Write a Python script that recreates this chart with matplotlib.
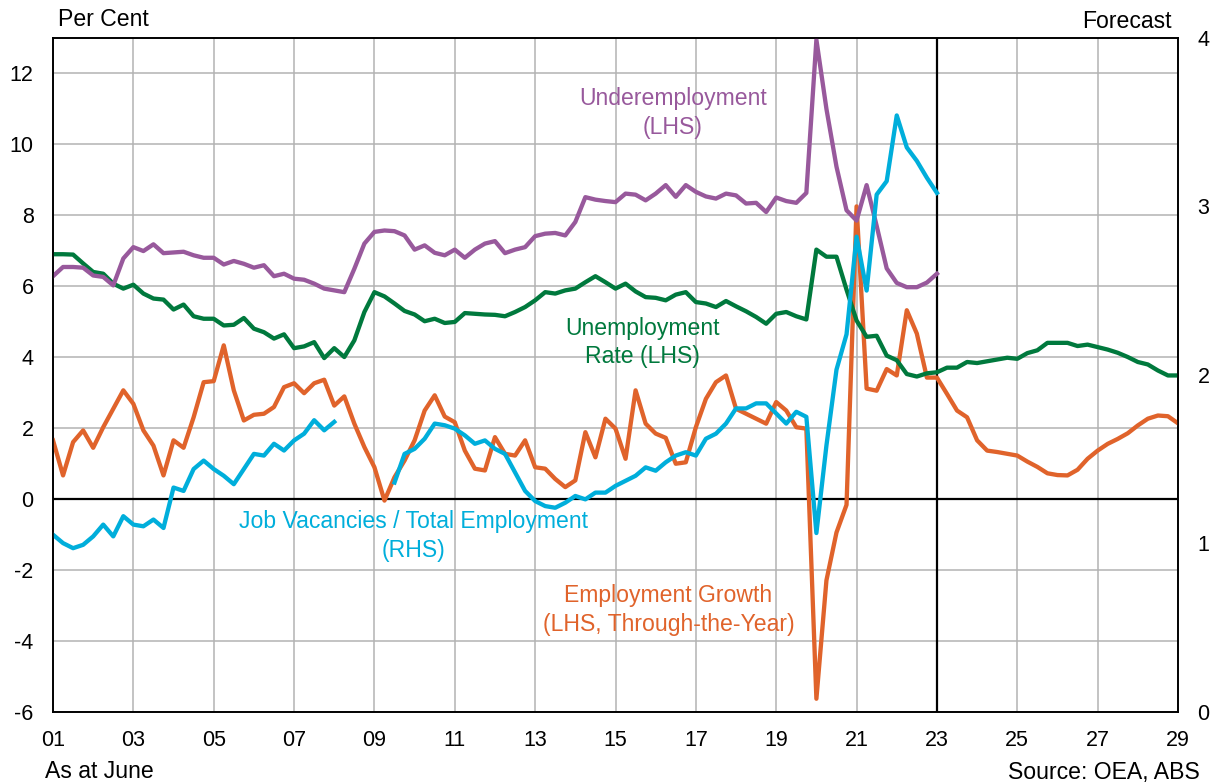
import numpy as np
import matplotlib
matplotlib.use("Agg")
import matplotlib.pyplot as plt

plt.rcParams['font.family'] = ['Liberation Sans', 'DejaVu Sans']
plt.rcParams['axes.unicode_minus'] = False

# quarterly data, first point = June 2001
start_year = 2001
forecast_start = 2023

# unemployment rate (LHS), actual to Jun-23 then forecast to Jun-29
unemployment = [
    6.90, 6.90, 6.89, 6.64, 6.40, 6.35, 6.07, 5.93,
    6.04, 5.79, 5.65, 5.62, 5.34, 5.48, 5.15, 5.08,
    5.08, 4.89, 4.91, 5.10, 4.80, 4.70, 4.52, 4.64,
    4.25, 4.30, 4.42, 3.97, 4.25, 4.00, 4.47, 5.27,
    5.83, 5.71, 5.51, 5.30, 5.20, 5.01, 5.08, 4.96,
    4.99, 5.24, 5.22, 5.20, 5.19, 5.15, 5.27, 5.41,
    5.60, 5.83, 5.79, 5.88, 5.93, 6.11, 6.28, 6.11,
    5.93, 6.07, 5.85, 5.69, 5.67, 5.60, 5.76, 5.83,
    5.55, 5.51, 5.41, 5.58, 5.43, 5.29, 5.13, 4.94,
    5.22, 5.27, 5.15, 5.06, 7.03, 6.83, 6.83, 5.90,
    5.03, 4.57, 4.60, 4.04, 3.91, 3.52, 3.45, 3.54,
    3.57, 3.70, 3.70, 3.86, 3.83, 3.88, 3.93, 3.98,
    3.95, 4.11, 4.19, 4.40, 4.40, 4.40, 4.31, 4.35,
    4.28, 4.21, 4.12, 4.00, 3.86, 3.79, 3.62, 3.48,
    3.48,
]

# employment growth, through the year (LHS)
employment_growth = [
    1.65, 0.66, 1.60, 1.93, 1.44, 2.02, 2.54, 3.06,
    2.68, 1.93, 1.50, 0.66, 1.65, 1.44, 2.30, 3.29,
    3.32, 4.33, 3.06, 2.21, 2.37, 2.40, 2.59, 3.15,
    3.26, 2.98, 3.26, 3.36, 2.63, 2.89, 2.12, 1.46,
    0.89, -0.05, 0.61, 1.08, 1.65, 2.49, 2.92, 2.32,
    2.16, 1.36, 0.85, 0.80, 1.74, 1.27, 1.22, 1.65,
    0.89, 0.85, 0.56, 0.33, 0.52, 1.88, 1.17, 2.26,
    1.98, 1.13, 3.06, 2.12, 1.84, 1.72, 0.99, 1.03,
    2.02, 2.82, 3.29, 3.48, 2.54, 2.40, 2.26, 2.12,
    2.73, 2.49, 2.02, 1.98, -5.64, -2.30, -0.95, -0.17,
    8.25, 3.11, 3.05, 3.66, 3.48, 5.32, 4.66, 3.42,
    3.42, 2.96, 2.49, 2.30, 1.65, 1.36, 1.32, 1.27,
    1.22, 1.05, 0.90, 0.72, 0.67, 0.66, 0.82, 1.13,
    1.36, 1.55, 1.69, 1.85, 2.07, 2.26, 2.35, 2.33,
    2.13,
]

# underemployment rate (LHS), to Jun-23
underemployment = [
    6.28, 6.54, 6.54, 6.52, 6.30, 6.26, 6.02, 6.78,
    7.10, 6.99, 7.18, 6.93, 6.95, 6.97, 6.87, 6.80,
    6.80, 6.61, 6.71, 6.63, 6.52, 6.59, 6.28, 6.35,
    6.21, 6.18, 6.07, 5.93, 5.88, 5.83, 6.49, 7.20,
    7.53, 7.57, 7.55, 7.43, 7.03, 7.15, 6.94, 6.87,
    7.03, 6.80, 7.03, 7.20, 7.27, 6.93, 7.03, 7.10,
    7.41, 7.48, 7.50, 7.43, 7.81, 8.51, 8.44, 8.40,
    8.37, 8.61, 8.58, 8.42, 8.61, 8.85, 8.52, 8.85,
    8.66, 8.53, 8.47, 8.61, 8.56, 8.33, 8.35, 8.09,
    8.50, 8.40, 8.35, 8.63, 12.95, 11.00, 9.37, 8.14,
    7.85, 8.85, 7.70, 6.50, 6.09, 5.97, 5.97, 6.10,
    6.35,
]

# job vacancies / total employment (RHS), survey gap 2008-09
vacancies = [
    1.05, 1.00, 0.97, 0.99, 1.04, 1.11, 1.04, 1.16,
    1.11, 1.10, 1.14, 1.09, 1.33, 1.31, 1.44, 1.49,
    1.44, 1.40, 1.35, 1.44, 1.53, 1.52, 1.59, 1.55,
    1.61, 1.65, 1.73, 1.67, 1.72, np.nan, np.nan, np.nan,
    np.nan, np.nan, 1.36, 1.53, 1.56, 1.62, 1.71, 1.70,
    1.68, 1.64, 1.59, 1.61, 1.56, 1.53, 1.42, 1.31,
    1.25, 1.22, 1.21, 1.24, 1.28, 1.26, 1.30, 1.30,
    1.34, 1.37, 1.40, 1.45, 1.43, 1.48, 1.52, 1.54,
    1.52, 1.62, 1.65, 1.71, 1.80, 1.80, 1.83, 1.83,
    1.77, 1.71, 1.78, 1.75, 1.06, 1.58, 2.03, 2.24,
    2.82, 2.50, 3.07, 3.15, 3.54, 3.35, 3.27, 3.17,
    3.08,
]

year_ticks = list(range(2001, 2030, 2))
year_labels = ["%02d" % (y % 100) for y in year_ticks]
lhs_ticks = list(range(-6, 13, 2))
rhs_ticks = [0, 1, 2, 3, 4]

c_purple = "#98599C"
c_green = "#00793D"
c_orange = "#E0632B"
c_cyan = "#00AEDB"


def quarters(values):
    return start_year + 0.25 * np.arange(len(values))


W, H = 1221, 784
fig = plt.figure(figsize=(W / 100, H / 100), dpi=100)
ax = fig.add_axes([53 / W, 1 - 711.5 / H, (1178 - 53) / W, (711.5 - 38) / H])

ax.plot(quarters(employment_growth), employment_growth, color=c_orange, lw=3.1, zorder=3)
ax.plot(quarters(unemployment), unemployment, color=c_green, lw=3.1, zorder=4)
ax.plot(quarters(underemployment), underemployment, color=c_purple, lw=3.1, zorder=5)

ax.set_xlim(2001, 2029)
ax.set_ylim(-6, 13)
ax.set_xticks(year_ticks)
ax.set_xticklabels(year_labels)
ax.set_yticks(lhs_ticks)
ax.grid(color="#b3b3b3", lw=1.1, zorder=0)
ax.set_axisbelow(True)
ax.axhline(0, color="black", lw=1.6, zorder=1)
ax.axvline(forecast_start, color="black", lw=1.6, zorder=2)
ax.tick_params(length=0, labelsize=15.5, pad=13)
ax.tick_params(axis="y", pad=14)
for s in ax.spines.values():
    s.set_color("black")
    s.set_linewidth(1.2)

ax2 = ax.twinx()
ax2.plot(quarters(vacancies), vacancies, color=c_cyan, lw=3.1)
ax2.set_ylim(0, 4)
ax2.set_yticks(rhs_ticks)
ax2.tick_params(length=0, labelsize=15.5, pad=14)
for s in ax2.spines.values():
    s.set_color("black")
    s.set_linewidth(1.2)

fs = 16.6
ls = 1.33
ax.text(2016.43, 10.88, "Underemployment\n(LHS)", color=c_purple, fontsize=fs,
        ha="center", va="center", linespacing=ls)
ax.text(2015.66, 4.41, "Unemployment\nRate (LHS)", color=c_green, fontsize=fs,
        ha="center", va="center", linespacing=ls)
ax.text(2009.98, -1.05, "Job Vacancies / Total Employment\n(RHS)", color=c_cyan,
        fontsize=fs, ha="center", va="center", linespacing=ls)
ax.text(2016.32, -3.14, "Employment Growth\n(LHS, Through-the-Year)", color=c_orange,
        fontsize=fs, ha="center", va="center", linespacing=ls)

fig.text(58 / W, 1 - 20 / H, "Per Cent", fontsize=fs, ha="left", va="center")
fig.text(1172 / W, 1 - 22 / H, "Forecast", fontsize=fs, ha="right", va="center")
fig.text(45 / W, 1 - 772 / H, "As at June", fontsize=fs, ha="left", va="center")
fig.text(1200 / W, 1 - 772 / H, "Source: OEA, ABS", fontsize=fs, ha="right", va="center")

fig.savefig("out.png", dpi=100)
